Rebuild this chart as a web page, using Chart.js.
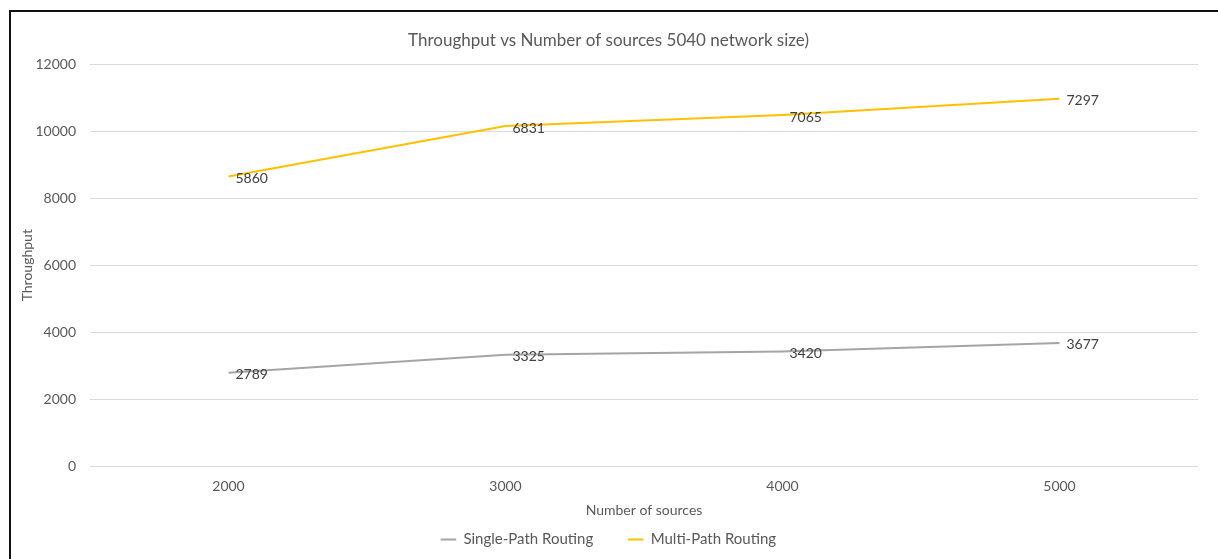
<!DOCTYPE html>
<html>
<head>
<meta charset="utf-8">
<script src="https://cdn.jsdelivr.net/npm/chart.js@4/dist/chart.umd.min.js"></script>
<style>
  body { margin: 0; background: #fff; overflow: hidden; }
  #frame {
    position: absolute; left: 9px; top: 10px;
    width: 1209px; height: 549px;
    border-left: 2px solid #111; border-top: 2px solid #111;
  }
</style>
</head>
<body>
<div id="frame"><canvas id="canvas1" width="1207" height="547"></canvas></div>
<script>
let sources = ['2000', '3000', '4000', '5000'];
let singlePath = [2789, 3325, 3420, 3677];
let multiPath = [5860, 6831, 7065, 7297];
let yTicks = [0, 2000, 4000, 6000, 8000, 10000, 12000];

let textColor = '#595959';
let font = 'Lato, "Open Sans", sans-serif';

// Excel style value labels at the right of each point
let valueLabels = {
  id: 'valueLabels',
  afterDatasetsDraw(chart) {
    let ctx = chart.ctx;
    ctx.save();
    ctx.font = '14px ' + font;
    ctx.fillStyle = '#404040';
    ctx.textAlign = 'left';
    ctx.textBaseline = 'middle';
    chart.data.datasets.forEach(function(ds, i) {
      chart.getDatasetMeta(i).data.forEach(function(pt, j) {
        ctx.fillText(ds.data[j], pt.x + 7, pt.y + 2);
      });
    });
    ctx.restore();
  }
};

let myChart = document.getElementById('canvas1').getContext('2d');
let throughputChart = new Chart(myChart, {
  type: 'line',
  data: {
    labels: sources,
    datasets: [{
      label: 'Single-Path Routing',
      data: singlePath,
      borderColor: '#A5A5A5',
      backgroundColor: '#A5A5A5',
      borderWidth: 2,
      pointRadius: 0,
      fill: false
    }, {
      label: 'Multi-Path Routing',
      data: multiPath,
      borderColor: '#FFC000',
      backgroundColor: '#FFC000',
      borderWidth: 2,
      pointRadius: 0,
      fill: false
    }]
  },
  options: {
    responsive: false,
    animation: false,
    layout: { padding: { left: 8, right: 20, top: 0, bottom: 2 } },
    plugins: {
      title: {
        display: true,
        text: 'Throughput vs Number of sources 5040 network size)',
        color: textColor,
        font: { family: font, size: 17, weight: 'normal' },
        padding: { top: 18, bottom: 14 }
      },
      legend: {
        position: 'bottom',
        labels: {
          usePointStyle: true,
          pointStyle: 'line',
          boxWidth: 16,
          boxHeight: 11,
          color: textColor,
          font: { family: font, size: 15 },
          padding: 35
        }
      },
      tooltip: { enabled: false }
    },
    scales: {
      x: {
        offset: true,
        afterFit: function(scale) { scale.height = 31; },
        grid: { display: false, drawTicks: false },
        border: { display: false },
        ticks: { color: textColor, font: { family: font, size: 14 }, padding: 12 },
        title: {
          display: true,
          text: 'Number of sources',
          color: textColor,
          font: { family: font, size: 14 },
          padding: { top: 0, bottom: -22 }
        }
      },
      y: {
        stacked: true,
        min: 0,
        max: 12000,
        afterBuildTicks: function(scale) {
          scale.ticks = yTicks.map(function(v) { return { value: v }; });
        },
        afterFit: function(scale) { scale.width = 71; },
        grid: { color: '#D9D9D9', drawTicks: false, lineWidth: 1 },
        border: { display: false },
        ticks: {
          color: textColor,
          font: { family: font, size: 14 },
          padding: 14,
          callback: function(v) { return String(v); }
        },
        title: {
          display: true,
          text: 'Throughput',
          color: textColor,
          font: { family: font, size: 14 },
          padding: { top: 0, bottom: 0 }
        }
      }
    }
  },
  plugins: [valueLabels]
});
</script>
</body>
</html>
